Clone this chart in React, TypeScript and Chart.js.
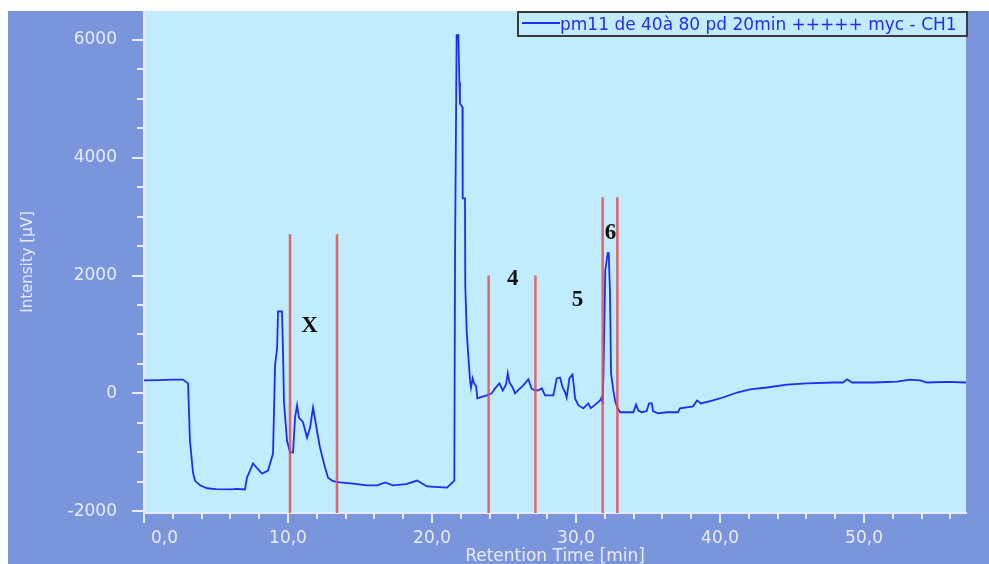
import { useEffect, useRef } from 'react';
import { Chart, registerables } from 'chart.js';

Chart.register(...registerables);

// ---- Data ----
const retentionTimes = [
  0.0, 1.0, 2.0, 2.7, 3.06, 3.19, 3.4, 3.54, 3.89, 4.38, 5.0, 5.97, 6.5, 7.01, 7.15, 7.57, 7.85, 8.19,
  8.61, 8.96, 9.1, 9.24, 9.31, 9.58, 9.65, 9.72, 9.93, 10.14, 10.35, 10.49, 10.63, 10.76, 11.04, 11.32,
  11.53, 11.74, 12.01, 12.22, 12.57, 12.78, 13.13, 13.61, 14.51, 15.49, 16.2, 16.74, 17.29, 18.2, 18.96,
  19.65, 21.04, 21.55, 21.6, 21.71, 21.83, 21.9, 21.94, 22.11, 22.13, 22.29, 22.31, 22.41, 22.53, 22.64,
  22.71, 22.82, 22.92, 23.06, 23.15, 23.45, 23.8, 24.14, 24.38, 24.68, 24.91, 25.14, 25.26, 25.37, 25.6,
  25.76, 26.0, 26.34, 26.69, 26.92, 27.15, 27.38, 27.62, 27.85, 28.42, 28.54, 28.66, 28.89, 29.07, 29.24,
  29.35, 29.54, 29.75, 29.86, 29.93, 30.16, 30.51, 30.85, 31.02, 31.44, 31.67, 31.78, 31.85, 31.9, 32.03,
  32.2, 32.27, 32.36, 32.43, 32.59, 32.71, 32.87, 33.06, 33.98, 34.17, 34.33, 34.58, 34.9, 35.07, 35.26,
  35.35, 35.69, 36.3, 37.08, 37.22, 38.13, 38.4, 38.68, 39.51, 40.2, 41.18, 42.08, 43.26, 44.65, 46.04,
  47.85, 48.54, 48.82, 49.17, 50.63, 52.29, 53.19, 53.89, 54.38, 55.76, 57.08,
];
const intensities = [
  220, 225, 235, 235, 170, -800, -1340, -1480, -1560, -1610, -1625, -1630, -1620, -1630, -1430, -1190, -1270, -1360,
  -1310, -1020, 475, 760, 1390, 1390, 760, -150, -800, -1000, -1000, -410, -200, -410, -490, -750,
  -580, -240, -630, -920, -1260, -1430, -1490, -1510, -1530, -1560, -1560, -1510, -1560, -1540, -1480,
  -1580, -1600, -1480, 2380, 6080, 6080, 5280, 4920, 4860, 3310, 3310, 1830, 1040, 610, 220,
  100, 255, 170, 120, -85, -60, -35, 0, 85, 170, 50, 150, 340, 190, 100,
  0, 60, 135, 240, 80, 50, 50, 85, -35, -35, 100, 255, 270, 100, 20,
  -70, 255, 320, 100, -85, -200, -255, -170, -250, -170, -120, -70, -170, 270, 2090,
  2380, 2380, 1700, 340, 50, -120, -240, -320, -320, -190, -290, -320, -300, -170, -170,
  -300, -340, -320, -320, -255, -220, -120, -170, -120, -70, 15, 70, 100, 150, 170,
  185, 185, 240, 185, 185, 200, 235, 220, 185, 195, 185,
];

const markerTimes = [10.14, 13.4, 23.93, 27.18, 31.85, 32.87];
const markerTops = [2700, 2700, 2000, 2000, 3330, 3330];

const peakLabels = ['X', '4', '5', '6'];
const peakLabelTimes = [11.5, 25.6, 30.1, 32.4];
const peakLabelValues = [1150, 1940, 1590, 2720];

const xMajorTicks = [0, 10, 20, 30, 40, 50];
const xMinorTicks = [2, 4, 6, 8, 12, 14, 16, 18, 22, 24, 26, 28, 32, 34, 36, 38, 42, 44, 46, 48, 52, 54, 56];
const yMajorTicks = [-2000, 0, 2000, 4000, 6000];
const yMinorTicks = [-1500, -1000, -500, 500, 1000, 1500, 2500, 3000, 3500, 4500, 5000, 5500];

const legendLabel = 'pm11 de 40à 80 pd 20min +++++ myc - CH1';
const xTitle = 'Retention Time [min]';
const yTitle = 'Intensity [μV]';

const X_MIN = 0;
const X_MAX = 57.08;
const Y_MIN = -2030;
const Y_MAX = 6490;

// ---- Styles ----
const PANEL = '#7a95dc';
const PLOT_BG = '#c0ecfe';
const TRACE = '#1e2df2';
const MARKER = 'rgba(234, 76, 76, 0.85)';
const AXIS_LIGHT = '#e6ecfa';
const LABEL_COLOR = '#e8ecf8';
const FONT = '"DejaVu Sans", Verdana, sans-serif';

const decorPlugin = {
  id: 'chromDecor',
  beforeDraw(chart: any) {
    const { ctx, chartArea } = chart;
    ctx.save();
    ctx.fillStyle = PANEL;
    ctx.fillRect(0, 0, chart.width, chart.height);
    ctx.fillStyle = PLOT_BG;
    ctx.fillRect(chartArea.left, chartArea.top, chartArea.right - chartArea.left, chartArea.bottom - chartArea.top);
    ctx.restore();
  },
  afterDraw(chart: any) {
    const { ctx, chartArea, scales } = chart;
    const xs = scales.x;
    const ys = scales.y;
    ctx.save();
    // tick marks
    ctx.strokeStyle = AXIS_LIGHT;
    ctx.lineWidth = 2;
    ctx.beginPath();
    yMajorTicks.forEach((v) => {
      const p = Math.round(ys.getPixelForValue(v));
      ctx.moveTo(chartArea.left - 12, p);
      ctx.lineTo(chartArea.left, p);
    });
    yMinorTicks.forEach((v) => {
      const p = Math.round(ys.getPixelForValue(v));
      ctx.moveTo(chartArea.left - 7, p);
      ctx.lineTo(chartArea.left, p);
    });
    xMajorTicks.forEach((v) => {
      const p = Math.round(xs.getPixelForValue(v));
      ctx.moveTo(p, chartArea.bottom);
      ctx.lineTo(p, chartArea.bottom + 10);
    });
    xMinorTicks.forEach((v) => {
      const p = Math.round(xs.getPixelForValue(v));
      ctx.moveTo(p, chartArea.bottom);
      ctx.lineTo(p, chartArea.bottom + 6);
    });
    ctx.stroke();

    // tick labels
    ctx.fillStyle = LABEL_COLOR;
    ctx.font = `17px ${FONT}`;
    ctx.textBaseline = 'middle';
    ctx.textAlign = 'right';
    yMajorTicks.forEach((v) => {
      ctx.fillText(String(v), chartArea.left - 27, ys.getPixelForValue(v));
    });
    xMajorTicks.forEach((v, i) => {
      const txt = v.toFixed(1).replace('.', ',');
      const p = xs.getPixelForValue(v);
      if (i === 0) {
        ctx.textAlign = 'left';
        ctx.fillText(txt, p + 7, chartArea.bottom + 26);
      } else {
        ctx.textAlign = 'center';
        ctx.fillText(txt, p, chartArea.bottom + 26);
      }
    });

    // peak annotations
    ctx.fillStyle = '#111111';
    ctx.font = `bold 23px "Liberation Serif", "Times New Roman", serif`;
    ctx.textAlign = 'center';
    ctx.textBaseline = 'middle';
    peakLabels.forEach((lbl, i) => {
      ctx.fillText(lbl, xs.getPixelForValue(peakLabelTimes[i]), ys.getPixelForValue(peakLabelValues[i]));
    });

    // legend box
    const bx = 510;
    const by = 1;
    const bw = chartArea.right - bx + 1;
    const bh = 24;
    ctx.fillStyle = PLOT_BG;
    ctx.fillRect(bx, by, bw, bh);
    ctx.strokeStyle = '#3a3a3a';
    ctx.lineWidth = 2;
    ctx.strokeRect(bx, by, bw, bh);
    ctx.strokeStyle = TRACE;
    ctx.lineWidth = 2;
    ctx.beginPath();
    ctx.moveTo(bx + 4, 12);
    ctx.lineTo(bx + 42, 12);
    ctx.stroke();
    ctx.fillStyle = '#2a2ae8';
    ctx.font = `17px ${FONT}`;
    ctx.textAlign = 'left';
    ctx.textBaseline = 'alphabetic';
    ctx.fillText(legendLabel, bx + 42, 19);
    ctx.restore();
  },
};

export default function App() {
  const canvasRef = useRef<HTMLCanvasElement | null>(null);

  useEffect(() => {
    if (!canvasRef.current) return;
    const traceData = retentionTimes.map((t, i) => ({ x: t, y: intensities[i] }));
    const markerSets = markerTimes.map((t, i) => ({
      label: `marker${i}`,
      data: [
        { x: t, y: Y_MIN },
        { x: t, y: markerTops[i] },
      ],
      borderColor: MARKER,
      borderWidth: 2.5,
      pointRadius: 0,
      order: 0,
    }));
    const chart = new Chart(canvasRef.current, {
      type: 'line',
      data: {
        datasets: [
          {
            label: legendLabel,
            data: traceData,
            borderColor: TRACE,
            borderWidth: 1.8,
            pointRadius: 0,
            tension: 0,
            order: 1,
          },
          ...markerSets,
        ],
      },
      options: {
        animation: false,
        responsive: false,
        devicePixelRatio: 1,
        layout: { padding: { left: 0, right: 23, top: 0, bottom: 0 } },
        plugins: {
          legend: { display: false },
          tooltip: { enabled: false },
        },
        scales: {
          x: {
            type: 'linear',
            min: X_MIN,
            max: X_MAX,
            grid: { display: false },
            border: { display: true, color: AXIS_LIGHT, width: 2 },
            ticks: { display: false },
            title: {
              display: true,
              text: xTitle,
              color: LABEL_COLOR,
              font: { family: FONT, size: 17, lineHeight: '14px' },
              padding: 0,
            },
            afterFit: (s: any) => {
              s.height = 51;
            },
          },
          y: {
            type: 'linear',
            min: Y_MIN,
            max: Y_MAX,
            grid: { display: false },
            border: { display: true, color: AXIS_LIGHT, width: 2 },
            ticks: { display: false },
            title: {
              display: true,
              text: yTitle,
              color: LABEL_COLOR,
              font: { family: FONT, size: 15, lineHeight: 1.2 },
              padding: { top: 11, bottom: 0 },
            },
            afterFit: (s: any) => {
              s.width = 136;
            },
          },
        },
      } as any,
      plugins: [decorPlugin],
    });
    return () => chart.destroy();
  }, []);

  return (
    <div style={{ position: 'absolute', left: 8, top: 11, width: 981, height: 553 }}>
      <canvas ref={canvasRef} width={981} height={553} style={{ display: 'block' }} />
    </div>
  );
}
